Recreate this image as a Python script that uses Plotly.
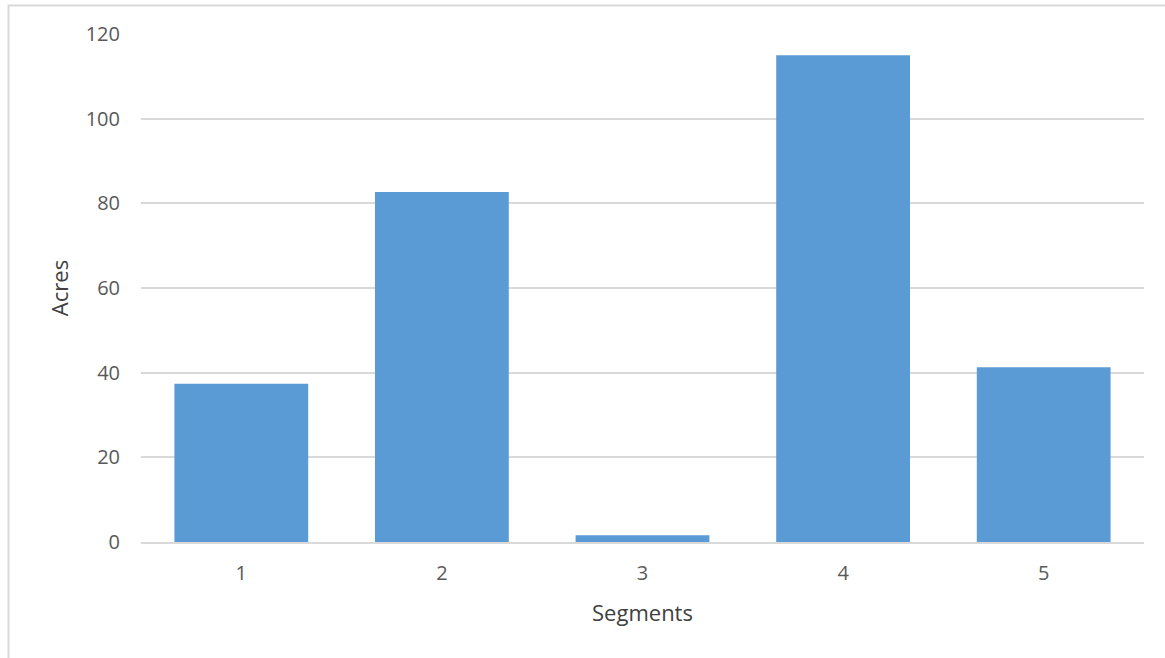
import plotly.graph_objects as go

segments = ["1", "2", "3", "4", "5"]
acres = [37.4, 82.7, 1.6, 115.0, 41.3]
y_ticks = [0, 20, 40, 60, 80, 100, 120]

W, H = 1165, 658
L, R, T, B = 141, 21, 34, 116
pw, ph = W - L - R, H - T - B

fig = go.Figure(go.Bar(x=segments, y=acres, marker=dict(color="#5B9BD5", line=dict(width=0)),
                       width=0.667))

font_family = "Open Sans, Lato, sans-serif"
fig.update_layout(
    width=W, height=H,
    margin=dict(l=L, r=R, t=T, b=B),
    paper_bgcolor="white", plot_bgcolor="white",
    font=dict(family=font_family, color="#595959", size=20),
    showlegend=False,
    xaxis=dict(
        type="category", showgrid=False, zeroline=False, showline=True,
        linecolor="#D9D9D9", linewidth=1.5,
        ticks="", ticklabelstandoff=12,
        tickfont=dict(size=20, color="#595959"),
        title=dict(text="Segments", standoff=21, font=dict(size=22, color="#404040")),
    ),
    yaxis=dict(
        range=[0, 120], tickvals=y_ticks, showgrid=True, gridcolor="#D9D9D9",
        gridwidth=1.5, zeroline=False, showline=False, ticks="",
        ticklabelstandoff=20,
        tickfont=dict(size=20, color="#595959"),
        title=dict(text="Acres", standoff=10, font=dict(size=22, color="#404040")),
    ),
)

fig.add_shape(type="rect", xref="paper", yref="paper",
              x0=(8.5 - L) / pw, x1=(W + 5 - L) / pw,
              y0=-(H + 5 - T - ph) / ph, y1=1 + (T - 5.5) / ph,
              line=dict(color="#D9D9D9", width=2), fillcolor="rgba(0,0,0,0)", layer="below")

fig.write_html("out.html", config={"displayModeBar": False},
               post_script="document.body.style.margin='0px';document.body.style.overflow='hidden';")
